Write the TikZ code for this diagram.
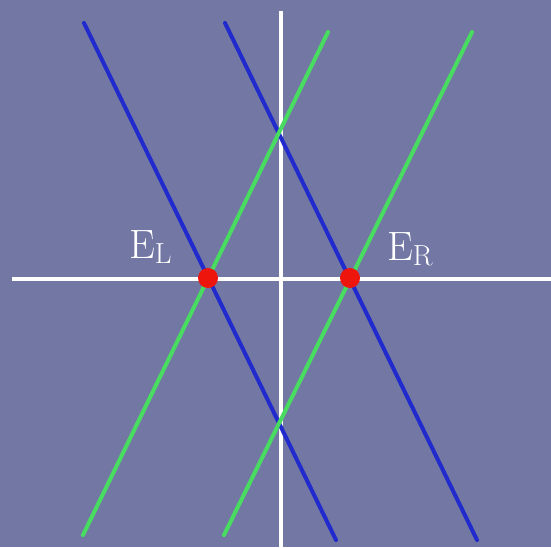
\documentclass[tikz,border=0pt]{standalone}
\usepackage{fontspec}
\usepackage{tikz}
\usetikzlibrary{positioning}
\definecolor{slate}{RGB}{114,119,164}
\definecolor{lineblue}{RGB}{32,42,205}
\definecolor{linegreen}{RGB}{72,220,96}
\definecolor{dotred}{RGB}{238,22,12}
\newcommand{\esub}[2]{#1{\fontsize{29}{29}\selectfont\raisebox{-5pt}{#2}}}

\begin{document}
\begin{tikzpicture}[
  x=1pt,y=-1pt,
  axis/.style={draw=white,line width=4pt},
  bline/.style={draw=lineblue,line width=4pt,line cap=round},
  gline/.style={draw=linegreen,line width=4pt,line cap=round},
  epole/.style={circle,fill=dotred,minimum size=20pt,inner sep=0pt},
  elabel/.style={text=white,inner sep=0pt,font=\fontsize{41}{41}\selectfont}
]
\fill[slate] (0,0) rectangle (551,547);
\useasboundingbox (0,0) rectangle (551,547);
% axes
\draw[axis] (12,279) -- (551,279);
\draw[axis] (281,11) -- (281,547);
% epipolar lines
\draw[bline] (84,23) -- (336,540);
\draw[bline] (225,23) -- (477,540);
\draw[gline] (328,32) -- (83,535);
\draw[gline] (472,32) -- (224,535);
% epipoles
\node[epole] (eL) at (208,278) {};
\node[epole] (eR) at (350,278) {};
\node[elabel,anchor=base west] (lL) at (129,258) {\esub{E}{L}};
\node[elabel,anchor=base west] (lR) at (387,260) {\esub{E}{R}};
\end{tikzpicture}
\end{document}
